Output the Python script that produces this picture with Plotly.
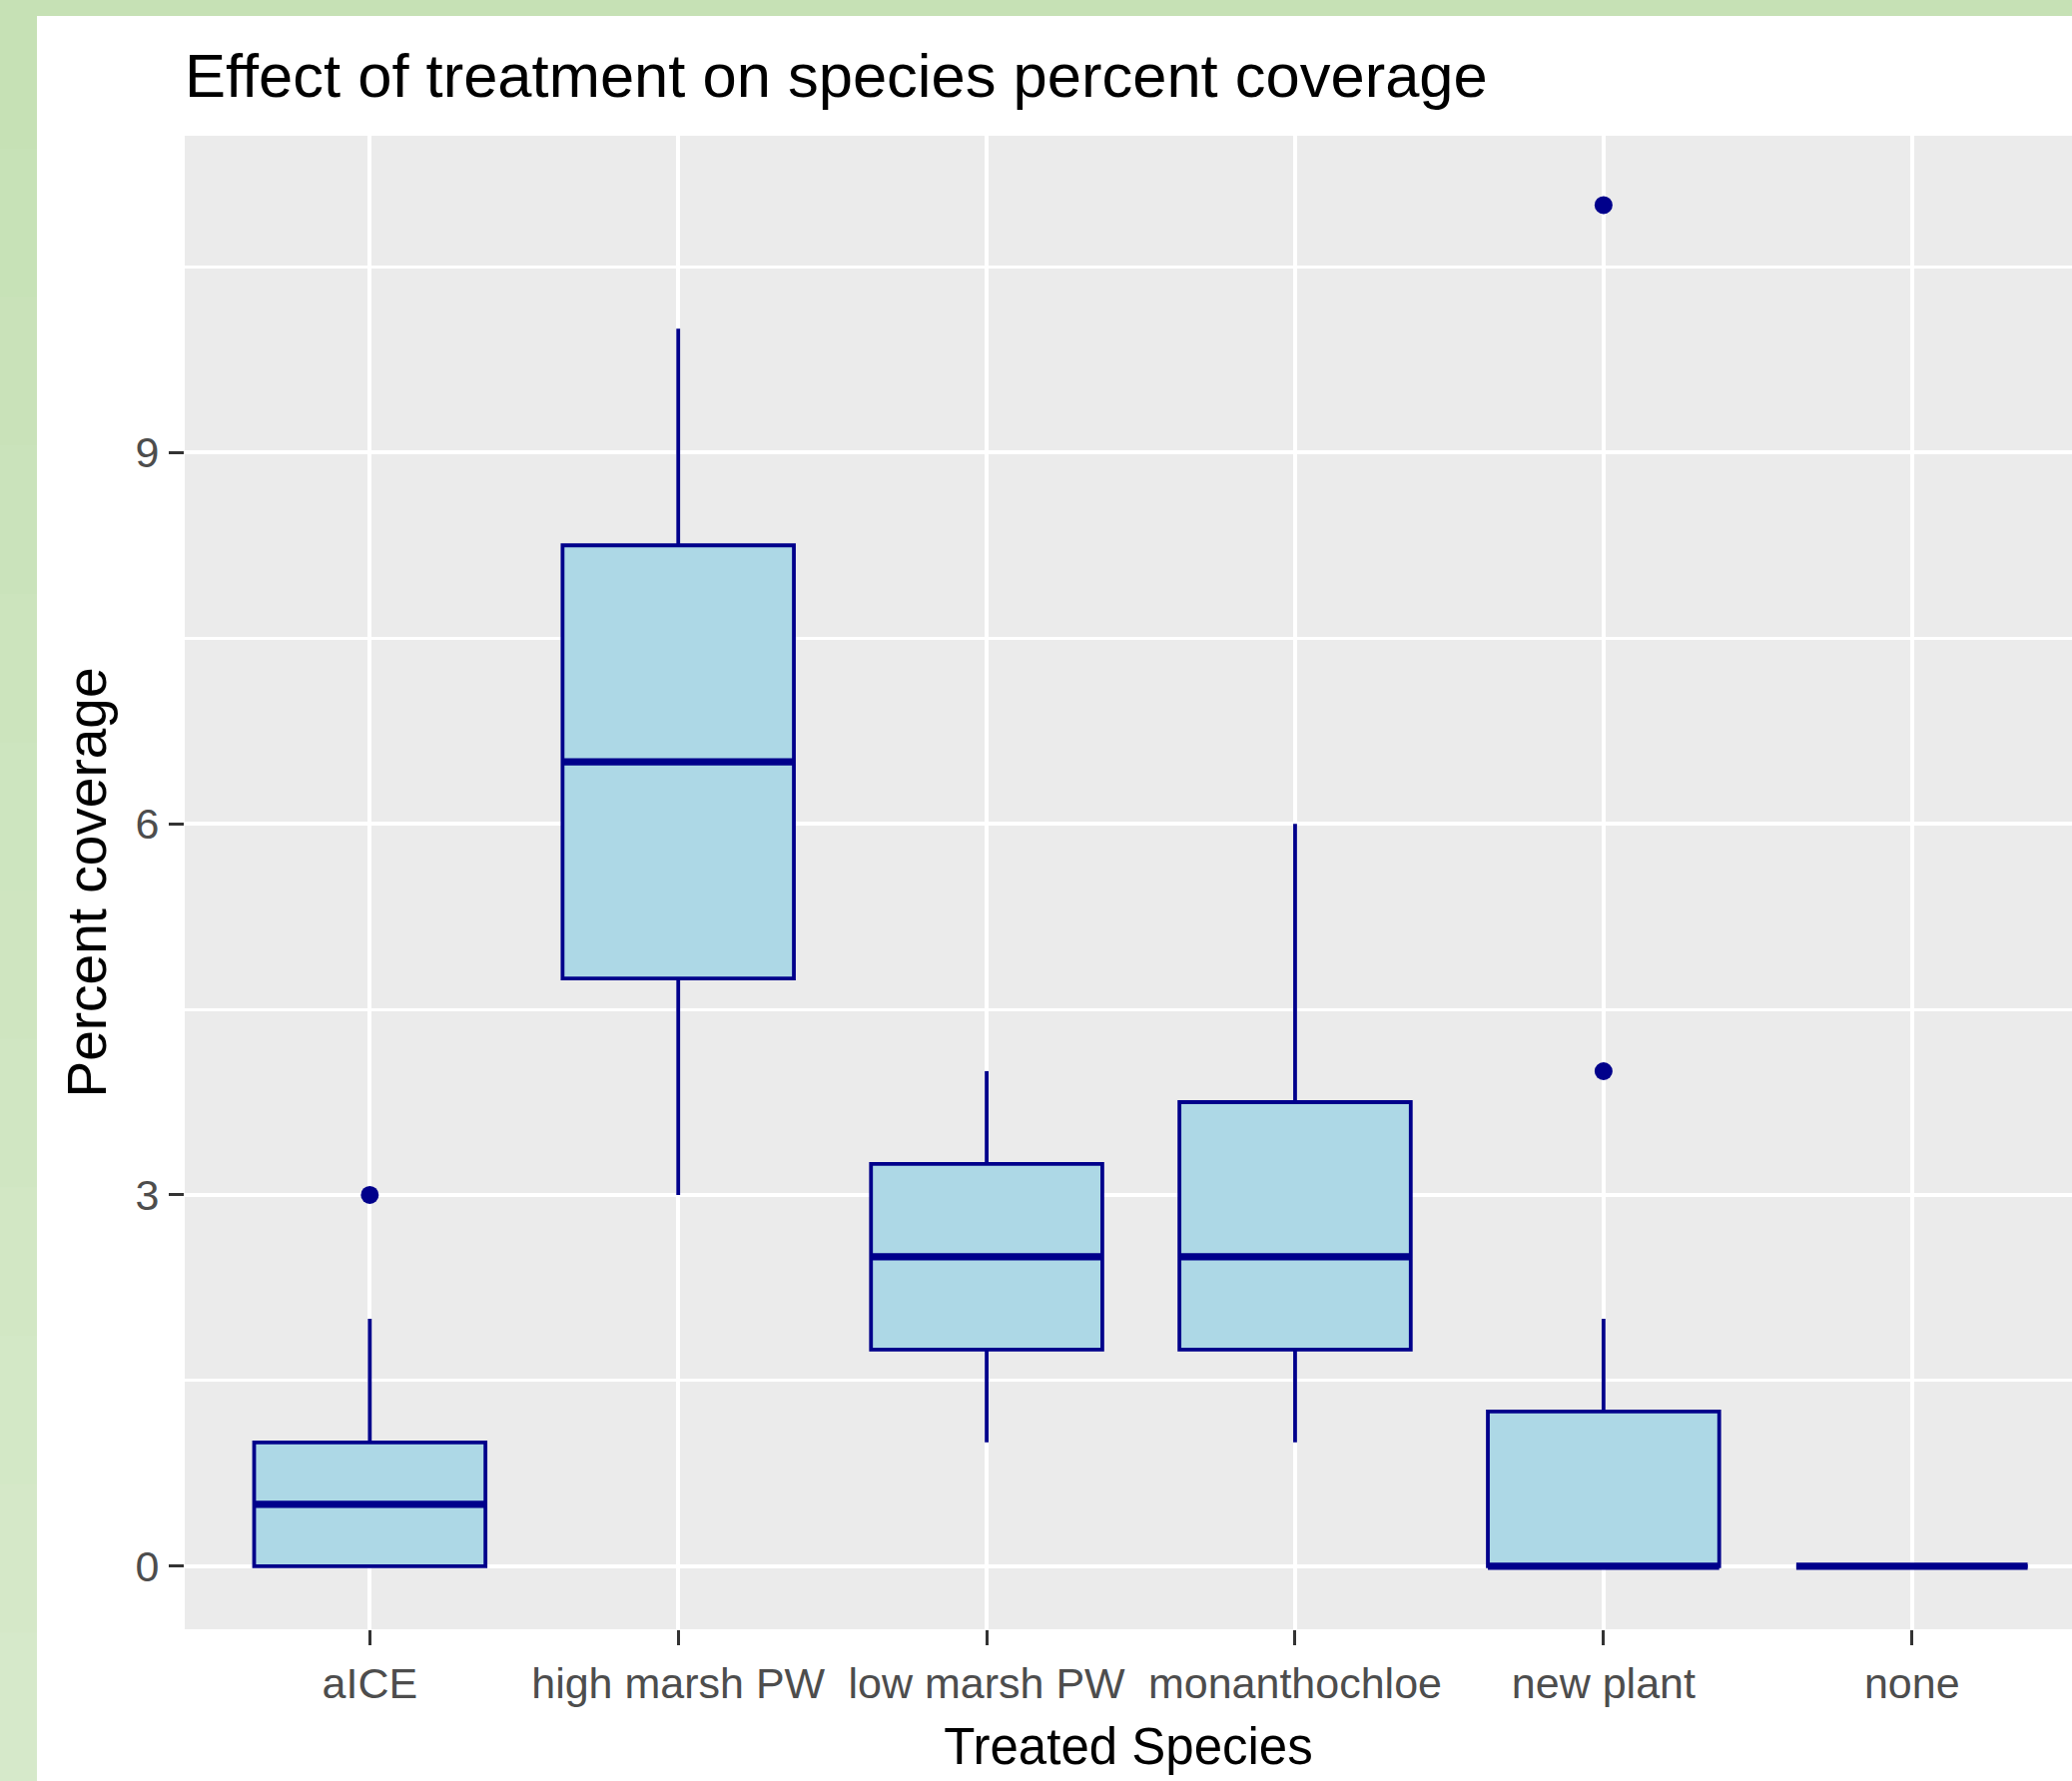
import plotly.graph_objects as go

# ---- data ----
categories = ["aICE", "high marsh PW", "low marsh PW", "monanthochloe", "new plant", "none"]
q1 = [0, 4.75, 1.75, 1.75, 0, 0]
medians = [0.5, 6.5, 2.5, 2.5, 0, 0]
q3 = [1, 8.25, 3.25, 3.75, 1.25, 0]
lower_whisker = [0, 3, 1, 1, 0, 0]
upper_whisker = [2, 10, 4, 6, 2, 0]
outlier_category = ["aICE", "new plant", "new plant"]
outlier_value = [3, 11, 4]
y_ticks = [0, 3, 6, 9]
y_minor = [1.5, 4.5, 7.5, 10.5]

W, H = 2075, 1784
ML, MR, MT, MB = 185, 0, 136, 152
BOX_W = 0.75
NAVY = "#00008b"
FILL = "#add8e6"
FONT = "Liberation Sans, Arial, sans-serif"

pos = list(range(1, len(categories) + 1))
cat_pos = {c: p for c, p in zip(categories, pos)}

fig = go.Figure()

fig.add_trace(go.Box(
    x=pos, q1=q1, median=medians, q3=q3,
    lowerfence=lower_whisker, upperfence=upper_whisker,
    width=BOX_W, whiskerwidth=0, boxpoints=False,
    fillcolor=FILL, line=dict(color=NAVY, width=3.8),
    showlegend=False, hoverinfo="skip",
))

# thicker median lines (ggplot fatten)
mx, my = [], []
for p, m in zip(pos, medians):
    mx += [p - BOX_W / 2, p + BOX_W / 2, None]
    my += [m, m, None]
fig.add_trace(go.Scatter(x=mx, y=my, mode="lines",
                         line=dict(color=NAVY, width=7.3),
                         showlegend=False, hoverinfo="skip"))

fig.add_trace(go.Scatter(x=[cat_pos[c] for c in outlier_category], y=outlier_value,
                         mode="markers", marker=dict(color=NAVY, size=18),
                         showlegend=False, hoverinfo="skip"))

# green frame (decorative page background strips)
pw, ph = W - ML - MR, H - MT - MB
def px_x(p):
    return (p - ML) / pw
def px_y(q):
    return 1 - (q - MT) / ph

shapes = []
top_c = (0xc6, 0xe1, 0xb5)
bot_c = (0xd6, 0xe9, 0xca)
n = 12
for i in range(n):
    t = i / (n - 1)
    col = "rgb(%d,%d,%d)" % tuple(round(a + (b - a) * t) for a, b in zip(top_c, bot_c))
    y0 = i * H / n
    y1 = (i + 1) * H / n + 1
    shapes.append(dict(type="rect", xref="paper", yref="paper",
                       x0=px_x(0), x1=px_x(37), y0=px_y(y1), y1=px_y(y0),
                       fillcolor=col, line=dict(width=0), layer="above"))
shapes.append(dict(type="rect", xref="paper", yref="paper",
                   x0=px_x(0), x1=px_x(W + 5), y0=px_y(16), y1=px_y(0),
                   fillcolor="rgb(198,225,181)", line=dict(width=0), layer="above"))

fig.update_layout(
    width=W, height=H,
    margin=dict(l=ML, r=MR, t=MT, b=MB, pad=0),
    paper_bgcolor="white", plot_bgcolor="#ebebeb",
    font=dict(family=FONT, color="black"),
    title=dict(text="Effect of treatment on species percent coverage",
               font=dict(size=61.5, color="black", family=FONT),
               x=ML / W, xref="container", xanchor="left",
               y=1 - 97 / H, yref="container", yanchor="bottom"),
    shapes=shapes,
    showlegend=False,
)

fig.update_xaxes(
    range=[0.4, 0.4 + pw / 233.4 / 1.3234],
    tickmode="array", tickvals=pos, ticktext=categories,
    showgrid=True, gridcolor="white", gridwidth=4, zeroline=False,
    ticks="outside", ticklen=15, tickwidth=3, tickcolor="#333333",
    tickfont=dict(size=43, color="#4d4d4d", family=FONT),
    ticklabelstandoff=1,
    title=dict(text="Treated Species", font=dict(size=51, color="black", family=FONT),
               standoff=22),
    showline=False,
)
fig.update_yaxes(
    range=[-0.51, 11.56],
    tickmode="array", tickvals=y_ticks, ticktext=[str(v) for v in y_ticks],
    showgrid=True, gridcolor="white", gridwidth=4, zeroline=False,
    minor=dict(tickmode="array", tickvals=y_minor, showgrid=True,
               gridcolor="white", gridwidth=3.3, ticks=""),
    ticks="outside", ticklen=15, tickwidth=3, tickcolor="#333333",
    tickfont=dict(size=43, color="#4d4d4d", family=FONT),
    ticklabelstandoff=1,
    title=dict(text="Percent coverage", font=dict(size=55, color="black", family=FONT),
               standoff=11),
    showline=False,
)

fig.write_html("out.html", config={"displayModeBar": False},
               post_script="document.body.style.margin='0';")
